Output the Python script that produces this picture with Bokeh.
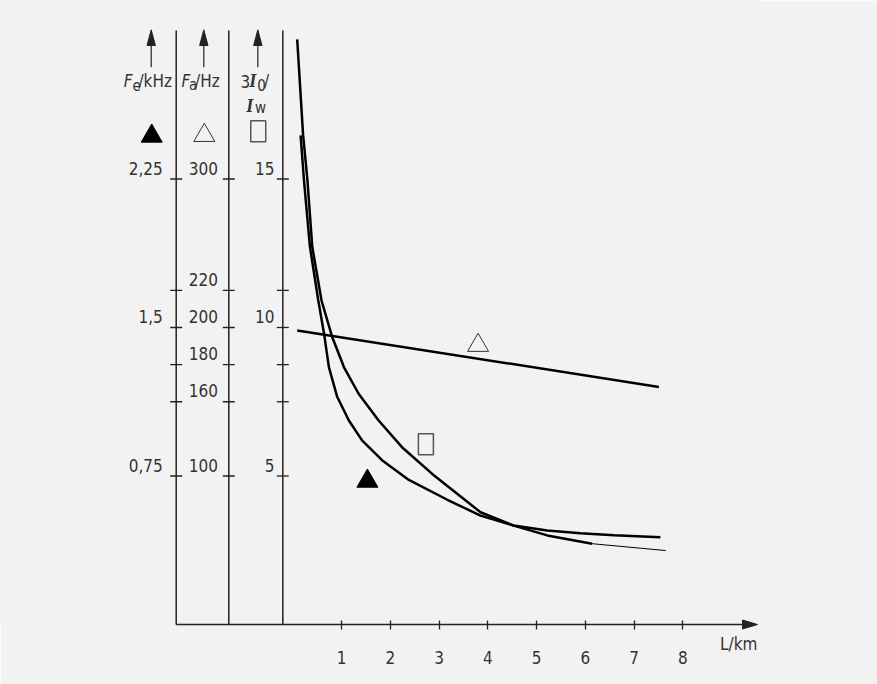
from bokeh.plotting import figure
from bokeh.models import Range1d, FixedTicker
from bokeh.core.properties import value
from bokeh.embed import file_html
from bokeh.resources import INLINE

# ---------------- data ----------------
# Fe (kHz) over line length L (km)  -- filled triangle curve
fe_L = [0.16, 0.23, 0.35, 0.52, 0.64, 0.74, 0.91, 1.15, 1.42, 1.83, 2.38, 3.17, 3.85, 4.53, 5.22, 5.90, 6.59, 7.54]
fe_kHz = [2.47, 2.24, 1.91, 1.64, 1.47, 1.30, 1.15, 1.03, 0.93, 0.83, 0.73, 0.63, 0.55, 0.50, 0.475, 0.461, 0.451, 0.441]

# 3I0/Iw over L (km)  -- square curve (thick part + thin tail)
i0_L = [0.09, 0.21, 0.30, 0.40, 0.59, 0.81, 1.05, 1.35, 1.76, 2.24, 2.86, 3.85, 4.53, 5.22, 6.14]
i0_ratio = [19.7, 16.5, 14.95, 12.7, 10.9, 9.67, 8.66, 7.77, 6.87, 5.97, 5.07, 3.78, 3.33, 3.00, 2.72]
i0_tail_L = [6.14, 7.65]
i0_tail_ratio = [2.72, 2.49]

# Fa (Hz) over L (km)  -- open triangle line
fa_L = [0.09, 7.51]
fa_Hz = [198, 160]

# curve symbols (label marks next to the curves)
fe_mark = (1.53, 0.724)      # km, kHz
fa_mark = (3.80, 188.0)      # km, Hz
i0_mark = (2.73, 6.07)       # km, ratio

# axes
x_ticks = [1, 2, 3, 4, 5, 6, 7, 8]
tick_levels = [15, 11.25, 10, 8.75, 7.5, 5]          # in 3I0/Iw units
fe_labels = ["2,25", "", "1,5", "", "", "0,75"]
fa_labels = ["300", "220", "200", "180", "160", "100"]
i0_labels = ["15", "", "10", "", "", "5"]
FE_PER_UNIT = 0.15     # kHz per 3I0/Iw unit
FA_PER_UNIT = 20.0     # Hz per 3I0/Iw unit
SCALE_TOP = 20.0       # top of the three scale lines

# ---------------- layout ----------------
BG = "#f2f2f2"
INK = "#222222"
TXT = "#333333"
FONT = "'DejaVu Sans Condensed', 'Liberation Sans', sans-serif"
SERIF = "Liberation Serif"

W, H = 877, 684
FRAME_W, FRAME_H = 757, 624
KX = 48.75            # px per km
KY = 29.7             # px per unit
X_END = 9.532
X_START = X_END - FRAME_W / KX
Y_END = FRAME_H / KY


def dx(px):
    return px / KX


def dy(py):
    return py / KY


def top_y(py):
    """data y of a point py pixels below the top of the scale lines"""
    return SCALE_TOP - dy(py)


col_fe, col_fa, col_i0 = -2.392, -1.313, -0.205
cols = [col_fe, col_fa, col_i0]
BASE_FIX = -7   # baseline correction (px)

p = figure(width=W, height=H, x_range=Range1d(X_START, X_END), y_range=Range1d(0, Y_END),
           output_backend="svg", toolbar_location=None, y_axis_location=None,
           min_border_left=0, min_border_right=W - FRAME_W, min_border_top=0,
           min_border_bottom=H - FRAME_H,
           background_fill_color=BG, border_fill_color=BG,
           outline_line_color=BG, outline_line_width=2)
p.extra_y_ranges = {"fe": Range1d(0, Y_END * FE_PER_UNIT), "fa": Range1d(0, Y_END * FA_PER_UNIT)}
p.grid.visible = False

# x axis (ticks and labels by Bokeh, line drawn from the first scale line)
ax = p.xaxis[0]
ax.ticker = FixedTicker(ticks=x_ticks)
ax.minor_tick_line_color = None
ax.major_tick_in = 4
ax.major_tick_out = 5
ax.major_tick_line_color = INK
ax.major_tick_line_width = 1.3
ax.axis_line_color = None
ax.major_label_text_font = FONT
ax.major_label_text_font_size = "17px"
ax.major_label_text_color = TXT
ax.major_label_standoff = 21

p.segment(x0=[col_fe], y0=[0], x1=[X_END - dx(8)], y1=[0], line_color=INK, line_width=1.6,
          level="overlay")
p.patches(xs=[[X_END, X_END - dx(15), X_END - dx(15)]], ys=[[0, dy(4.5), -dy(4.5)]],
          fill_color=INK, line_color=INK, line_width=1, level="overlay")
p.text(x=[X_END], y=[0], text=["L/km"], x_offset=0, y_offset=26 + BASE_FIX, text_align="right",
       text_baseline="alphabetic", text_font=value(FONT), text_font_size="17px",
       text_color=TXT, level="overlay")

# vertical scale lines with ticks
for c in cols:
    p.segment(x0=[c], y0=[0], x1=[c], y1=[SCALE_TOP], line_color=INK, line_width=1.5,
              level="overlay")
    p.scatter(x=[c] * len(tick_levels), y=tick_levels, marker="dash", size=12,
              line_color=INK, line_width=1.3)

# tick labels
for c, labs, off, align in [(col_fe, fe_labels, -13.4, "right"),
                            (col_fa, fa_labels, -25.5, "center"),
                            (col_i0, i0_labels, -8.3, "right")]:
    p.text(x=[c] * len(labs), y=tick_levels, text=labs, x_offset=off, y_offset=-4 + BASE_FIX,
           text_align=align, text_baseline="alphabetic", text_font=value(FONT),
           text_font_size="17px", text_color=TXT)

# header: arrows
for c in cols:
    xa = c - dx(25)
    ytip = top_y(-0.7)
    ybase = top_y(15)
    p.segment(x0=[xa], y0=[top_y(36.7)], x1=[xa], y1=[ybase], line_color=INK,
              line_width=1.2)
    p.patches(xs=[[xa, xa - dx(4.2), xa + dx(4.2)]], ys=[[ytip, ybase, ybase]],
              fill_color=INK, line_color=INK, line_width=1)

# header: unit texts  (text, column, x offset, baseline below top, font, style, size)
header = [
    ("F", col_fe, -52.5, 57.5, FONT, "italic", "17px"),
    ("e", col_fe, -43.8, 61.0, FONT, "normal", "15px"),
    ("/kHz", col_fe, -37.8, 57.5, FONT, "normal", "17px"),
    ("F", col_fa, -47.2, 57.5, FONT, "italic", "17px"),
    ("a", col_fa, -39.8, 61.0, FONT, "normal", "15px"),
    ("/Hz", col_fa, -33.8, 57.5, FONT, "normal", "17px"),
    ("3", col_i0, -42.3, 57.5, FONT, "normal", "17px"),
    ("I", col_i0, -33.6, 57.5, SERIF, "bold italic", "18px"),
    ("0", col_i0, -25.6, 61.0, FONT, "normal", "15px"),
    ("/", col_i0, -18.8, 57.5, FONT, "normal", "17px"),
    ("I", col_i0, -36.5, 82.3, SERIF, "bold italic", "18px"),
    ("w", col_i0, -27.8, 84.8, FONT, "normal", "15px"),
]
for s, c, ox, oy, fnt, sty, sz in header:
    p.text(x=[c], y=[SCALE_TOP], text=[s], x_offset=ox, y_offset=oy + BASE_FIX, text_align="left",
           text_baseline="alphabetic", text_font=value(fnt), text_font_style=sty,
           text_font_size=sz, text_color=TXT)

# header: symbols
p.scatter(x=[col_fe - dx(24.5)], y=[top_y(105.6)], marker="triangle", size=21,
          fill_color="#000000", line_color="#000000")
p.scatter(x=[col_fa - dx(24.5)], y=[top_y(104.9)], marker="triangle", size=21,
          fill_color=None, line_color=TXT, line_width=1)
p.rect(x=[col_i0 - dx(24.6)], y=[top_y(100.7)], width=15, height=21,
       width_units="screen", height_units="screen", fill_color=None,
       line_color="#555555", line_width=1.5)

# curves
p.line(fa_L, fa_Hz, y_range_name="fa", line_color="#000000", line_width=2.5)
p.line(fe_L, fe_kHz, y_range_name="fe", line_color="#000000", line_width=2.5)
p.line(i0_L, i0_ratio, line_color="#000000", line_width=2.5)
p.line(i0_tail_L, i0_tail_ratio, line_color="#000000", line_width=1)

# curve symbols
p.scatter(x=[fe_mark[0]], y=[fe_mark[1]], y_range_name="fe", marker="triangle", size=21,
          fill_color="#000000", line_color="#000000")
p.scatter(x=[fa_mark[0]], y=[fa_mark[1]], y_range_name="fa", marker="triangle", size=21,
          fill_color=None, line_color=TXT, line_width=1)
p.rect(x=[i0_mark[0]], y=[i0_mark[1]], width=15, height=21, width_units="screen",
       height_units="screen", fill_color=None, line_color="#555555", line_width=1.5)

open("out.html", "w").write(file_html(p, INLINE))
